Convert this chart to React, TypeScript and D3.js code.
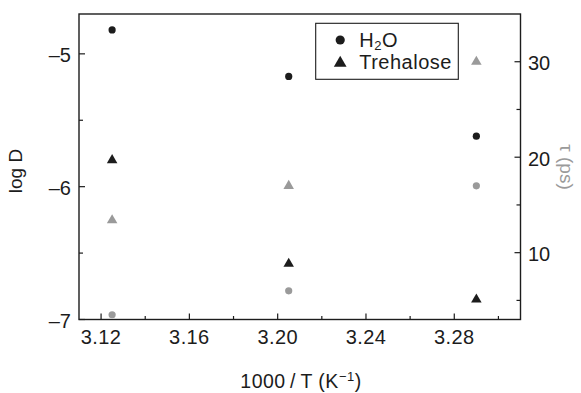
import React, { useEffect, useRef } from 'react';
import * as d3 from 'd3';

// x values: 1000/T (K^-1)
const invTemp = [3.125, 3.205, 3.29];

// log D (left axis)
const logDWater = [-4.82, -5.17, -5.62];
const logDTrehalose = [-5.8, -6.58, -6.85];

// tau in ps (right axis)
const tauWater = [3.5, 6.0, 17.0];
const tauTrehalose = [13.4, 17.0, 30.0];

const xMajor = [3.12, 3.16, 3.2, 3.24, 3.28];
const xMinor = [3.14, 3.18, 3.22, 3.26, 3.3];
const leftMajor = [-7, -6, -5];
const leftMinor = [-6.5, -5.5];
const rightMajor = [10, 20, 30];
const rightMinor = [5, 15, 25];

const legendItems = ['H2O', 'Trehalose'];

const App = () => {
  const svgRef = useRef<SVGSVGElement>(null);

  const width = 581;
  const height = 393;

  useEffect(() => {
    const svg = d3.select(svgRef.current);
    svg.selectAll('*').remove();

    const margin = { top: 14, right: 60.5, bottom: 73.5, left: 79 };
    const innerWidth = width - margin.left - margin.right;
    const innerHeight = height - margin.top - margin.bottom;
    const ink = '#1c1c1c';
    const grey = '#9a9a9a';
    const font = '"Liberation Sans", Arial, sans-serif';

    const x = d3.scaleLinear().domain([3.11, 3.31]).range([0, innerWidth]);
    const yLeft = d3.scaleLinear().domain([-7, -4.7]).range([innerHeight, 0]);
    const yRight = d3.scaleLinear().domain([3, 35]).range([innerHeight, 0]);

    const g = svg.append('g').attr('transform', `translate(${margin.left},${margin.top})`);

    // frame
    g.append('rect')
      .attr('width', innerWidth)
      .attr('height', innerHeight)
      .attr('fill', 'none')
      .attr('stroke', ink)
      .attr('stroke-width', 1.4);

    // ticks all point inward
    const tickLine = (x1, y1, x2, y2) =>
      g.append('line')
        .attr('x1', x1).attr('y1', y1).attr('x2', x2).attr('y2', y2)
        .attr('stroke', ink).attr('stroke-width', 1.2);

    xMajor.forEach(v => tickLine(x(v), innerHeight, x(v), innerHeight - 6));
    xMinor.forEach(v => tickLine(x(v), innerHeight, x(v), innerHeight - 3.5));
    leftMajor.forEach(v => tickLine(0, yLeft(v), 6, yLeft(v)));
    leftMinor.forEach(v => tickLine(0, yLeft(v), 4, yLeft(v)));
    rightMajor.forEach(v => tickLine(innerWidth, yRight(v), innerWidth - 6, yRight(v)));
    rightMinor.forEach(v => tickLine(innerWidth, yRight(v), innerWidth - 4, yRight(v)));

    g.selectAll('.xlab')
      .data(xMajor)
      .enter()
      .append('text')
      .attr('x', d => x(d))
      .attr('y', innerHeight + 24.5)
      .attr('text-anchor', 'middle')
      .style('font-family', font)
      .style('font-size', '20px')
      .style('letter-spacing', '0.4px')
      .attr('fill', ink)
      .text(d => d.toFixed(2));

    g.selectAll('.ylab')
      .data(leftMajor)
      .enter()
      .append('text')
      .attr('x', -8)
      .attr('y', d => yLeft(d) + 8)
      .attr('text-anchor', 'end')
      .style('font-family', font)
      .style('font-size', '20px')
      .attr('fill', ink)
      .text(d => String(d).replace('-', '\u2013'));

    g.selectAll('.rlab')
      .data(rightMajor)
      .enter()
      .append('text')
      .attr('x', innerWidth + 7.5)
      .attr('y', d => yRight(d) + 8.5)
      .attr('text-anchor', 'start')
      .style('font-family', font)
      .style('font-size', '20px')
      .attr('fill', ink)
      .text(d => d);

    // axis titles
    const xTitle = g.append('text')
      .attr('x', 222)
      .attr('y', innerHeight + 68.5)
      .attr('text-anchor', 'middle')
      .style('font-family', font)
      .style('font-size', '19.5px')
      .style('letter-spacing', '0.5px')
      .attr('fill', ink);
    xTitle.append('tspan').text('1000\u2009/\u2009T (K');
    xTitle.append('tspan').attr('dy', -7).style('font-size', '13px').text('\u22121');
    xTitle.append('tspan').attr('dy', 7).text(')');

    g.append('text')
      .attr('transform', `translate(${-57},${157}) rotate(-90)`)
      .attr('text-anchor', 'middle')
      .style('font-family', font)
      .style('font-size', '19px')
      .attr('fill', ink)
      .text('log D');

    g.append('text')
      .attr('transform', `translate(${innerWidth + 39},${153}) rotate(90)`)
      .attr('text-anchor', 'middle')
      .style('font-family', font)
      .style('font-size', '19px')
      .attr('fill', grey)
      .text('\u03c4 (ps)');

    // markers
    const tri = d3.symbol().type(d3.symbolTriangle).size(48);
    const drawCircles = (ys, scale, color) =>
      g.selectAll(null)
        .data(invTemp.map((d, i) => [d, ys[i]]))
        .enter()
        .append('circle')
        .attr('cx', d => x(d[0]))
        .attr('cy', d => scale(d[1]))
        .attr('r', 3.6)
        .attr('fill', color);
    const drawTriangles = (ys, scale, color) =>
      g.selectAll(null)
        .data(invTemp.map((d, i) => [d, ys[i]]))
        .enter()
        .append('path')
        .attr('d', tri)
        .attr('transform', d => `translate(${x(d[0])},${scale(d[1])})`)
        .attr('fill', color);

    drawCircles(tauWater, yRight, grey);
    drawTriangles(tauTrehalose, yRight, grey);
    drawCircles(logDWater, yLeft, ink);
    drawTriangles(logDTrehalose, yLeft, ink);

    // legend
    const legend = g.append('g').attr('transform', `translate(${315.7 - margin.left},${23.3 - margin.top})`);
    legend.append('rect')
      .attr('width', 142.6)
      .attr('height', 56)
      .attr('fill', 'white')
      .attr('stroke', ink)
      .attr('stroke-width', 1.1);

    legendItems.forEach((name, i) => {
      const cy = 16.7 + i * 22.5;
      if (i === 0) {
        legend.append('circle').attr('cx', 24.5).attr('cy', cy).attr('r', 4.6).attr('fill', ink);
      } else {
        legend.append('path')
          .attr('d', d3.symbol().type(d3.symbolTriangle).size(70))
          .attr('transform', `translate(24.5,${cy + 0.5})`)
          .attr('fill', ink);
      }
      const t = legend.append('text')
        .attr('x', 43.5)
        .attr('y', cy + 7)
        .style('font-family', font)
        .style('font-size', '20px')
        .style('letter-spacing', '0.5px')
        .attr('fill', ink);
      if (name === 'H2O') {
        t.append('tspan').text('H');
        t.append('tspan').attr('dy', 3.5).style('font-size', '13px').text('2');
        t.append('tspan').attr('dy', -3.5).text('O');
      } else {
        t.text(name);
      }
    });
  }, []);

  return (
    <svg
      ref={svgRef}
      width={width}
      height={height}
      style={{ position: 'absolute', left: 0, top: 0, background: 'white' }}
    ></svg>
  );
};

export default App;
